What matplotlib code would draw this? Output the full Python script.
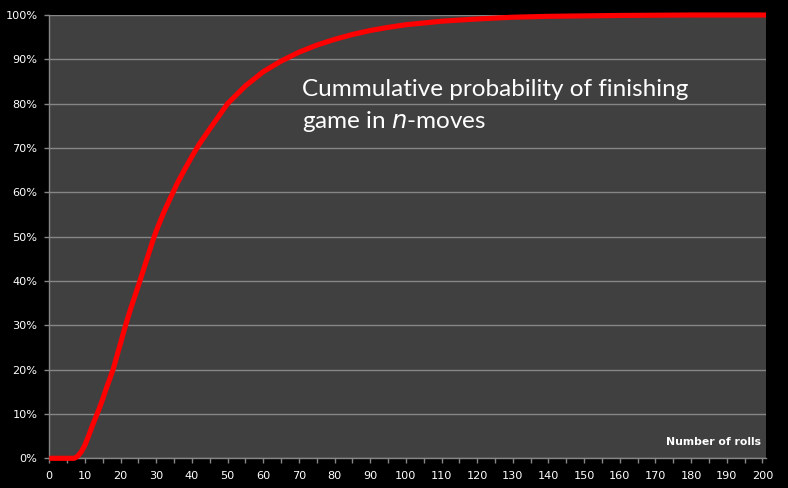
import matplotlib
matplotlib.use("Agg")
import matplotlib.pyplot as plt
from matplotlib.ticker import MultipleLocator, FuncFormatter

# cumulative probability (%) of finishing by n rolls
rolls = [0, 5, 7, 8, 9, 10, 11, 12, 13, 14, 15, 16, 17, 18, 19, 20,
         21, 22, 23, 24, 25, 26, 27, 28, 29, 30, 32, 34, 36, 38, 40,
         42, 45, 50, 55, 60, 65, 70, 75, 80, 85, 90, 95, 100, 110,
         120, 130, 140, 150, 160, 180, 201]
cum_pct = [0, 0, 0, 0.5, 1.5, 3.0, 5.0, 7.2, 9.2, 11.2, 13.4, 15.8, 18.0,
           20.3, 23.2, 26.0, 28.9, 31.6, 34.2, 36.6, 39.0, 41.5, 44.0,
           46.5, 49.0, 51.3, 55.3, 58.8, 62.2, 65.2, 68.1, 70.8, 74.3,
           80.0, 84.0, 87.2, 89.6, 91.6, 93.2, 94.5, 95.6, 96.5, 97.2,
           97.8, 98.6, 99.1, 99.5, 99.7, 99.8, 99.9, 100, 100]

GRID = "#868686"

fig = plt.figure(figsize=(7.88, 4.88), dpi=100, facecolor="black")
ax = fig.add_axes([49.3 / 788, (488 - 458.3) / 488,
                   (766 - 49.3) / 788, (458.3 - 15) / 488])
ax.set_facecolor("#404040")

ax.plot(rolls, cum_pct, color="#ff0000", lw=3.7, solid_capstyle="butt",
        zorder=3, clip_on=False)

ax.set_xlim(0, 201)
ax.set_ylim(0, 100)
ax.xaxis.set_major_locator(MultipleLocator(10))
ax.xaxis.set_minor_locator(MultipleLocator(5))
ax.yaxis.set_major_locator(MultipleLocator(10))
ax.yaxis.set_major_formatter(FuncFormatter(lambda v, p: f"{v:.0f}%"))

ax.grid(axis="y", color=GRID, lw=1)
ax.set_axisbelow(True)
for s in ["top", "right"]:
    ax.spines[s].set_visible(False)
for s in ["left", "bottom"]:
    ax.spines[s].set_color(GRID)
    ax.spines[s].set_linewidth(1)

ax.tick_params(axis="both", which="both", colors=GRID, direction="out",
               length=3.5, width=1, labelcolor="white", labelsize=8.1)
ax.tick_params(axis="x", pad=5.5)
ax.tick_params(axis="y", pad=5)
for lab in ax.get_xticklabels() + ax.get_yticklabels():
    lab.set_family("DejaVu Sans")

ax.text(302.5 / 788, (488 - 96) / 488,
        "Cummulative probability of finishing",
        transform=fig.transFigure, color="white", fontsize=17.5,
        family="Lato", ha="left", va="baseline")
ax.text(302.5 / 788, (488 - 128) / 488,
        "game in $\\it{n}$-moves",
        transform=fig.transFigure, color="white", fontsize=17.5,
        family="Lato", ha="left", va="baseline")

ax.text(761 / 788, (488 - 445) / 488, "Number of rolls",
        transform=fig.transFigure, color="white", fontsize=7.8,
        fontweight="bold", family="DejaVu Sans", ha="right", va="baseline")

fig.savefig("out.png", dpi=100, facecolor="black")
